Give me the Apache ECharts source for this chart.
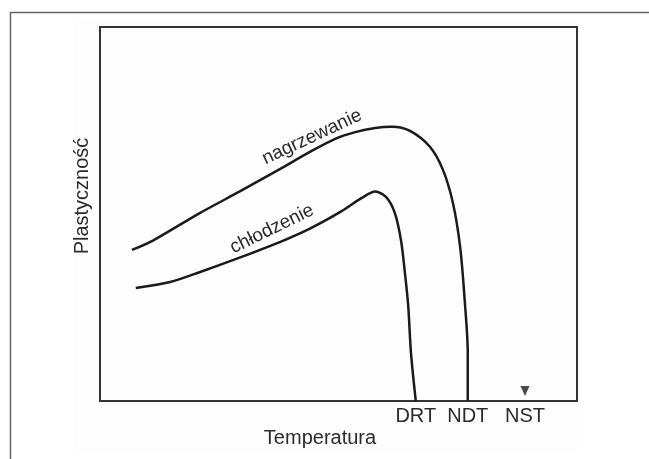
<!DOCTYPE html>
<html>
<head>
<meta charset="utf-8">
<script src="https://cdn.jsdelivr.net/npm/echarts@6/dist/echarts.min.js"></script>
<style>html,body{margin:0;padding:0;background:#fff;}#c{width:649px;height:459px;}</style>
</head>
<body>
<div id="c"></div>
<script>
// Temperature (arbitrary units 0-100) vs plasticity (arbitrary units 0-100)
const heatingX = [6.7, 11.1, 21.0, 29.4, 37.7, 44.0, 49.3, 53.5, 57.7, 61.2, 65.0, 69.2, 71.9, 74.0, 75.5, 76.5, 77.1, 77.1];
const heatingY = [40.4, 42.9, 50.3, 56.1, 62.0, 66.6, 70.1, 71.9, 73.0, 73.3, 72.2, 67.9, 61.8, 52.9, 41.2, 26.2, 12.8, 0];
const coolingX = [7.5, 14.7, 21.0, 29.4, 37.7, 44.0, 50.3, 54.9, 57.7, 60.0, 61.8, 63.1, 63.9, 64.6, 65.2, 66.2];
const coolingY = [30.2, 31.8, 34.5, 38.4, 42.5, 46.1, 50.5, 54.3, 56.0, 54.5, 50.3, 43.0, 34.5, 25.7, 12.8, 0];
const tickNames = ['DRT', 'NDT', 'NST'];
const tickValues = [66.2, 77.1, 89.1];
const arrowValue = [89.1, 2.7];
const curveNames = ['nagrzewanie', 'chłodzenie'];
const xTitle = 'Temperatura';
const yTitle = 'Plastyczność';

const zip = (xs, ys) => xs.map((x, i) => [x, ys[i]]);
const chart = echarts.init(document.getElementById('c'));
const font = '"Liberation Sans", Arial, sans-serif';
const txt = '#2b2b2b';

chart.setOption({
  animation: false,
  backgroundColor: '#fff',
  grid: { left: 100, top: 27, width: 477, height: 374, show: true, borderColor: '#333', borderWidth: 2, backgroundColor: 'transparent' },
  xAxis: {
    type: 'value', min: 0, max: 100,
    splitLine: { show: false },
    axisLine: { show: false },
    axisTick: { show: false },
    axisLabel: {
      customValues: tickValues,
      formatter: v => { const i = tickValues.findIndex(t => Math.abs(t - v) < 0.01); return i >= 0 ? tickNames[i] : ''; },
      fontFamily: font, fontSize: 20, color: txt, margin: 5
    }
  },
  yAxis: {
    type: 'value', min: 0, max: 100,
    splitLine: { show: false }, axisLine: { show: false }, axisTick: { show: false }, axisLabel: { show: false }
  },
  graphic: [
    { type: 'rect', z: -10, shape: { x: 74, y: 20, width: 503, height: 432 }, style: { fill: '#fdfdfd' } },
    { type: 'line', shape: { x1: 10, y1: 12.5, x2: 649, y2: 12.5 }, style: { stroke: '#666', lineWidth: 1.5 } },
    { type: 'line', shape: { x1: 10.5, y1: 12, x2: 10.5, y2: 459 }, style: { stroke: '#666', lineWidth: 1.5 } },
    { type: 'text', x: 320, y: 438, style: { text: xTitle, font: '20px ' + font, fill: txt, align: 'center', verticalAlign: 'middle' } },
    { type: 'text', x: 82, y: 196, rotation: Math.PI / 2, style: { text: yTitle, font: '20px ' + font, fill: txt, align: 'center', verticalAlign: 'middle' } },
    { type: 'text', x: 312, y: 137, rotation: 25 * Math.PI / 180, style: { text: curveNames[0], font: '19px ' + font, fill: txt, align: 'center', verticalAlign: 'middle' } },
    { type: 'text', x: 272, y: 229, rotation: 26 * Math.PI / 180, style: { text: curveNames[1], font: '19px ' + font, fill: txt, align: 'center', verticalAlign: 'middle' } }
  ],
  series: [
    { type: 'line', name: curveNames[0], data: zip(heatingX, heatingY), smooth: 0.3, showSymbol: false, lineStyle: { color: '#1a1a1a', width: 2.5 } },
    { type: 'line', name: curveNames[1], data: zip(coolingX, coolingY), smooth: 0.3, showSymbol: false, lineStyle: { color: '#1a1a1a', width: 2.5 } },
    { type: 'scatter', data: [arrowValue], symbol: 'triangle', symbolRotate: 180, symbolSize: [9, 10], itemStyle: { color: '#1a1a1a' } }
  ]
});
</script>
</body>
</html>
